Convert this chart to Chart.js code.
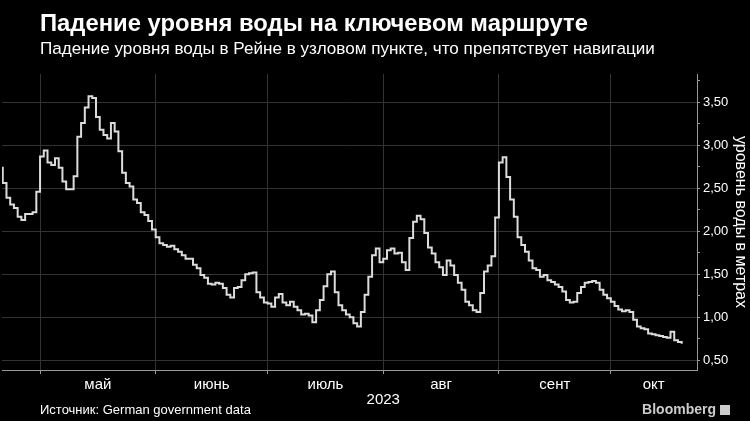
<!DOCTYPE html>
<html>
<head>
<meta charset="utf-8">
<script src="https://cdn.jsdelivr.net/npm/chart.js@4.4.0/dist/chart.umd.min.js"></script>
<style>
  body { margin: 0; background: #000; }
  #wrap { position: relative; width: 750px; height: 421px; overflow: hidden; font-family: "Liberation Sans", Arial, sans-serif; color: #fff; }
  #title { position: absolute; left: 40px; top: 9px; font-size: 23.8px; font-weight: bold; white-space: nowrap; }
  #subtitle { position: absolute; left: 40px; top: 39px; font-size: 17.1px; white-space: nowrap; }
  #source { position: absolute; left: 40px; top: 402px; font-size: 13px; white-space: nowrap; }
  #logo { position: absolute; right: 20px; top: 401px; font-size: 14px; font-weight: bold; color: #ccc; white-space: nowrap; }
  #logo span { display: inline-block; width: 10px; height: 10px; background: #ccc; margin-left: 4px; vertical-align: -1px; }
  canvas { position: absolute; left: 0; top: 0; }
</style>
</head>
<body>
<div id="wrap">
  <canvas id="chart" width="750" height="421"></canvas>
  <div id="title">Падение уровня воды на ключевом маршруте</div>
  <div id="subtitle">Падение уровня воды в Рейне в узловом пункте, что препятствует навигации</div>
  <div id="source">Источник: German government data</div>
  <div id="logo">Bloomberg<span></span></div>
</div>
<script>
// day of year 2023, one value per day (water level, m)
const firstDay = 110;
const levels = [
  2.74, 2.56, 2.39, 2.31, 2.27, 2.17, 2.13, 2.20, 2.20, 2.22,
  2.46, 2.87, 2.94, 2.80, 2.77, 2.85, 2.74, 2.58, 2.49, 2.49,
  2.64, 3.10, 3.26, 3.44, 3.57, 3.55, 3.33, 3.18, 3.12, 3.08,
  3.26, 3.16, 2.93, 2.68, 2.56, 2.52, 2.37, 2.33, 2.22, 2.19,
  2.12, 2.02, 1.93, 1.86, 1.84, 1.82, 1.83, 1.79, 1.76, 1.72,
  1.68, 1.68, 1.61, 1.57, 1.49, 1.46, 1.39, 1.38, 1.40, 1.39,
  1.34, 1.26, 1.23, 1.34, 1.35, 1.43, 1.50, 1.51, 1.52, 1.29,
  1.23, 1.17, 1.16, 1.12, 1.23, 1.27, 1.17, 1.14, 1.18, 1.12,
  1.08, 1.03, 1.04, 1.02, 0.94, 1.08, 1.20, 1.36, 1.50, 1.53,
  1.29, 1.14, 1.08, 1.03, 1.00, 0.93, 0.89, 1.06, 1.26, 1.47,
  1.72, 1.80, 1.64, 1.68, 1.78, 1.80, 1.74, 1.75, 1.64, 1.55,
  1.92, 2.11, 2.18, 2.14, 1.98, 1.81, 1.74, 1.64, 1.58, 1.49,
  1.66, 1.60, 1.49, 1.40, 1.32, 1.18, 1.14, 1.08, 1.06, 1.28,
  1.53, 1.60, 1.71, 2.16, 2.80, 2.86, 2.63, 2.37, 2.17, 1.93,
  1.84, 1.76, 1.66, 1.57, 1.55, 1.47, 1.49, 1.43, 1.41, 1.38,
  1.35, 1.30, 1.20, 1.17, 1.18, 1.28, 1.35, 1.40, 1.41, 1.42,
  1.40, 1.32, 1.26, 1.22, 1.18, 1.13, 1.09, 1.07, 1.08, 1.06,
  0.97, 0.89, 0.87, 0.86, 0.81, 0.80, 0.79, 0.78, 0.77, 0.76,
  0.83, 0.73, 0.71, 0.69
];

const monthStarts = [121, 152, 182, 213, 244, 274];
const monthLabels = ['май', 'июнь', 'июль', 'авг', 'сент', 'окт'];
const monthLabelDays = [136.5, 167, 197.5, 228.5, 259, 285.5];
const yearLabel = '2023';
const yearLabelDay = 213;

const points = levels.map((v, i) => ({ x: firstDay + i, y: v }));

const xMin = 110.8, xMax = 297.1;
const gridColor = '#333';
const axisColor = '#999';

new Chart(document.getElementById('chart'), {
  type: 'line',
  data: {
    datasets: [{
      data: points,
      borderColor: '#dcdcdc',
      borderWidth: 2,
      pointRadius: 0,
      stepped: true
    }]
  },
  options: {
    responsive: false,
    animation: false,
    layout: { padding: { top: 74, left: 2, right: 0, bottom: 13 } },
    plugins: { legend: { display: false }, tooltip: { enabled: false } },
    scales: {
      x: {
        type: 'linear', position: 'bottom', weight: 0,
        min: xMin, max: xMax,
        afterBuildTicks: s => { s.ticks = monthStarts.map(v => ({ value: v })); },
        afterFit: s => { s.height = 4; },
        grid: { color: gridColor, tickLength: 4, tickColor: axisColor },
        border: { color: axisColor },
        ticks: { display: false }
      },
      xm: {
        type: 'linear', position: 'bottom', weight: 1,
        min: xMin, max: xMax,
        afterBuildTicks: s => { s.ticks = monthLabelDays.map(v => ({ value: v })); },
        afterFit: s => { s.height = 17; },
        grid: { display: false, drawTicks: false },
        border: { display: false },
        ticks: {
          color: '#fff', font: { family: 'Liberation Sans', size: 15 }, padding: 2,
          maxRotation: 0, autoSkip: false,
          callback: (v, i) => monthLabels[i]
        }
      },
      xy: {
        type: 'linear', position: 'bottom', weight: 2,
        min: xMin, max: xMax,
        afterBuildTicks: s => { s.ticks = [{ value: yearLabelDay }]; },
        afterFit: s => { s.height = 17; },
        grid: { display: false, drawTicks: false },
        border: { display: false },
        ticks: {
          color: '#fff', font: { family: 'Liberation Sans', size: 15 }, padding: 0,
          maxRotation: 0, autoSkip: false,
          callback: () => yearLabel
        }
      },
      y: {
        position: 'right',
        min: 0.385, max: 3.83,
        afterFit: s => { s.width = 53; },
        grid: {
          color: c => (Math.round(c.tick.value * 100) % 50 === 0 ? gridColor : 'transparent'),
          tickColor: axisColor, tickLength: 3
        },
        border: { color: axisColor },
        ticks: {
          stepSize: 0.25, includeBounds: false, padding: 3,
          color: '#fff', font: { family: 'Liberation Sans', size: 13 },
          callback: v => (Math.round(v * 100) % 50 === 0 ? v.toFixed(2).replace('.', ',') : '')
        },
        title: {
          display: true, text: 'уровень воды в метрах',
          color: '#fff', font: { family: 'Liberation Sans', size: 16 }, padding: 0
        }
      }
    }
  }
});
</script>
</body>
</html>
